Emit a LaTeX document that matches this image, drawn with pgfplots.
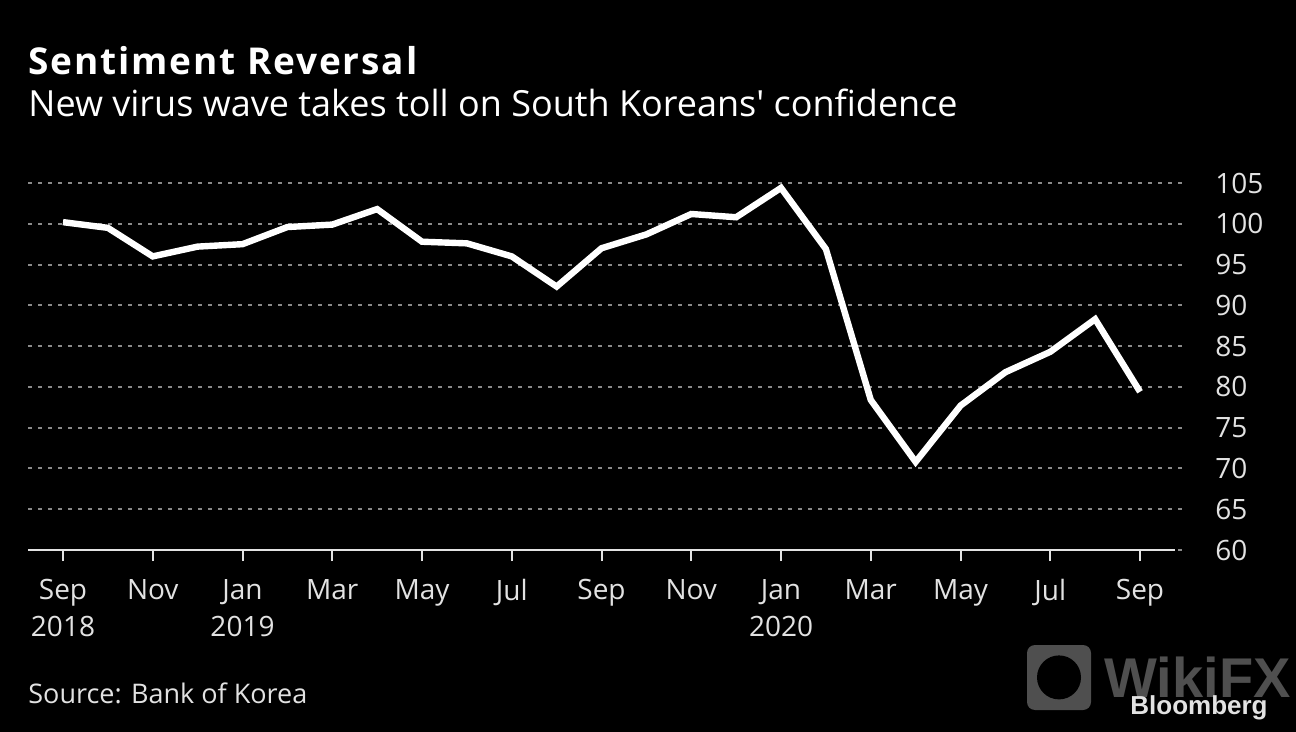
\documentclass[border=0pt]{standalone}
\usepackage{pgfplots}
\pgfplotsset{compat=1.18}
\usepackage{fontspec}
\setmainfont{Open Sans}[Ligatures=TeXOff]
\newfontfamily\logofont{Liberation Sans}
\definecolor{txt}{HTML}{E2E2E2}
\definecolor{grd}{HTML}{8A8A8A}
\definecolor{wm}{HTML}{4F4F4F}
\begin{document}
\begin{tikzpicture}
\fill[black] (0,0) rectangle (648pt,-366pt);
\useasboundingbox (0,0) rectangle (648pt,-366pt);
% watermark (bottom right)
\fill[wm, rounded corners=4pt] (513.5pt,-322.5pt) rectangle (545.5pt,-355pt);
\fill[black] (529.5pt,-338.7pt) circle (11pt);
\node[anchor=base west, inner sep=0, text=wm, font=\logofont\bfseries\fontsize{28}{30}\selectfont] at (552pt,-348.5pt) {WikiFX};
\begin{axis}[
  at={(14pt,-275pt)}, anchor=south west,
  scale only axis, width=578pt, height=183.5pt,
  xmin=-0.78, xmax=24.98, ymin=60, ymax=105,
  clip=false,
  axis line style={draw=none},
  ytick={60,65,...,105},
  ymajorgrids,
  grid style={grd, line width=1pt, dash pattern=on 2pt off 3pt},
  ytick pos=right, ytick style={draw=none},
  yticklabel pos=right,
  yticklabel style={anchor=west, inner sep=0pt, xshift=10pt, text=txt, font=\fontsize{14}{16}\selectfont},
  /pgf/number format/assume math mode=true,
  xtick={0,2,...,24},
  xtick pos=bottom, tick align=outside,
  major tick length=5.5pt,
  xtick style={txt, line width=1pt},
  xticklabels={{Sep\\2018},Nov,{Jan\\2019},Mar,May,Jul,Sep,Nov,{Jan\\2020},Mar,May,Jul,Sep},
  xticklabel style={align=center, anchor=north, inner sep=0pt, yshift=-9pt, text=txt, font=\fontsize{14}{18.5}\selectfont},
]
\draw[txt, line width=1.2pt] (axis cs:-0.78,60) -- (axis cs:24.78,60);
\addplot[white, line width=3.2pt, line join=miter, mark=none] coordinates {
(0,100.2) (1,99.5) (2,96.0) (3,97.2) (4,97.5) (5,99.6) (6,99.9) (7,101.8)
(8,97.8) (9,97.6) (10,96.0) (11,92.3) (12,97.0) (13,98.7) (14,101.2) (15,100.8)
(16,104.4) (17,96.9) (18,78.4) (19,70.8) (20,77.7) (21,81.8) (22,84.3) (23,88.3) (24,79.4)
};
\end{axis}
\node[anchor=base west, inner sep=0, text=white, font=\bfseries\fontsize{18.5}{20}\selectfont\addfontfeature{LetterSpace=5}] at (14pt,-37.5pt) {Sentiment Reversal};
\node[anchor=base west, inner sep=0, text=white, font=\fontsize{18}{20}\selectfont] at (14pt,-58.5pt) {New virus wave takes toll on South Koreans' confidence};
\node[anchor=base west, inner sep=0, text=txt, font=\fontsize{13.5}{15}\selectfont] at (14pt,-351.5pt) {Source: Bank of Korea};
\node[anchor=base east, inner sep=0, text=txt, font=\logofont\bfseries\fontsize{13}{14}\selectfont] at (634pt,-357pt) {Bloomberg};
\end{tikzpicture}
\end{document}
